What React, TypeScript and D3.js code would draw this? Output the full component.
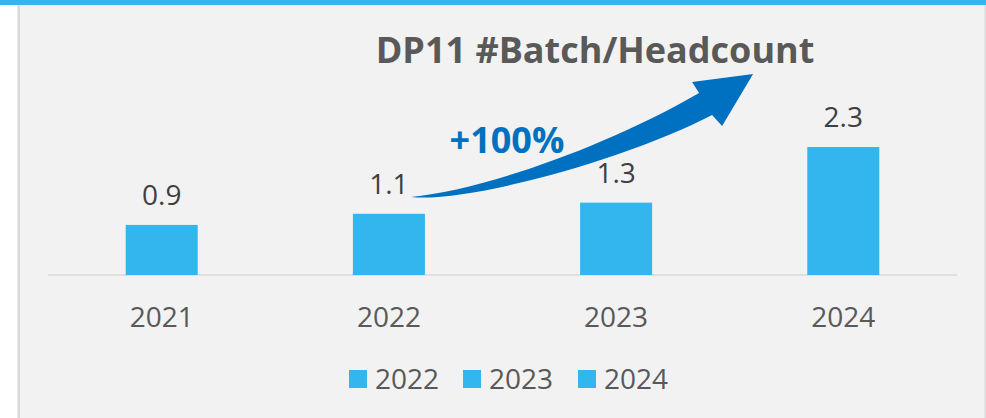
import React from "react";
import * as d3 from "d3";

const categories = ["2021", "2022", "2023", "2024"];
const values = [0.9, 1.1, 1.3, 2.3];
const valueLabels = ["0.9", "1.1", "1.3", "2.3"];
const legendItems = ["2022", "2023", "2024"];
const titleText = "DP11 #Batch/Headcount";
const growthText = "+100%";

const W = 986;
const H = 418;
const BAR = "#33b6ed";
const ARROW = "#0070c0";
const FONT = "'Open Sans', 'Noto Sans', sans-serif";

export default function App() {
  const x = d3.scaleBand<string>().domain(categories).range([48, 957]).paddingInner(0.683).paddingOuter(0.342);
  const y = d3.scaleLinear().domain([0, 2.3]).range([275, 147]);
  const bw = x.bandwidth();
  const cx = (c: string) => (x(c) as number) + bw / 2;

  // arrow geometry anchored to the 2023 bar centre (annotation shape)
  const c23 = cx("2023");
  const ax = (v: number) => c23 + (v - 616);
  const S = [ax(411), 197];
  const U = [ax(699), 93];
  const B1 = [ax(692), 82];
  const T = [ax(753), 74];
  const B2 = [ax(722), 126];
  const L = [ax(712), 115];
  const arrowPath =
    `M${S[0]},${S[1]} C${ax(480)},190 ${ax(600)},150 ${U[0]},${U[1]} ` +
    `L${B1[0]},${B1[1]} L${T[0]},${T[1]} L${B2[0]},${B2[1]} L${L[0]},${L[1]} ` +
    `C${ax(630)},158 ${ax(470)},203 ${S[0]},${S[1]} Z`;

  const legendX = [349, 463, 578];

  return (
    <svg width={W} height={H} style={{ position: "absolute", left: 0, top: 0 }} fontFamily={FONT}>
      <rect x={0} y={0} width={W} height={H} fill="#ffffff" />
      <rect x={18} y={0} width={968} height={H} fill="#f2f2f2" />
      <rect x={17.5} y={0} width={2.5} height={H} fill="#d9d9d9" />
      <rect x={984.5} y={0} width={1.5} height={H} fill="#d9d9d9" />
      <rect x={0} y={0} width={W} height={5} fill={BAR} />

      <text x={595} y={63} textAnchor="middle" fontSize={36} fontWeight={700} fill="#595959">
        {titleText}
      </text>

      <line x1={48} x2={957} y1={y(0)} y2={y(0)} stroke="#d9d9d9" strokeWidth={1.5} />

      {categories.map((c, i) => (
        <g key={c}>
          <rect x={x(c)} y={y(values[i])} width={bw} height={y(0) - y(values[i])} fill={BAR} />
          <text x={cx(c)} y={y(values[i]) - 20} textAnchor="middle" fontSize={28} fill="#404040">
            {valueLabels[i]}
          </text>
          <text x={cx(c)} y={327} textAnchor="middle" fontSize={28} fill="#595959">
            {c}
          </text>
        </g>
      ))}

      <path d={arrowPath} fill={ARROW} />
      <text x={507} y={153} textAnchor="middle" fontSize={36} fontWeight={700} fill={ARROW}>
        {growthText}
      </text>

      {legendItems.map((l, i) => (
        <g key={l}>
          <rect x={legendX[i]} y={370} width={18} height={18} fill={BAR} />
          <text x={legendX[i] + 26} y={389} fontSize={28} fill="#595959">
            {l}
          </text>
        </g>
      ))}
    </svg>
  );
}
